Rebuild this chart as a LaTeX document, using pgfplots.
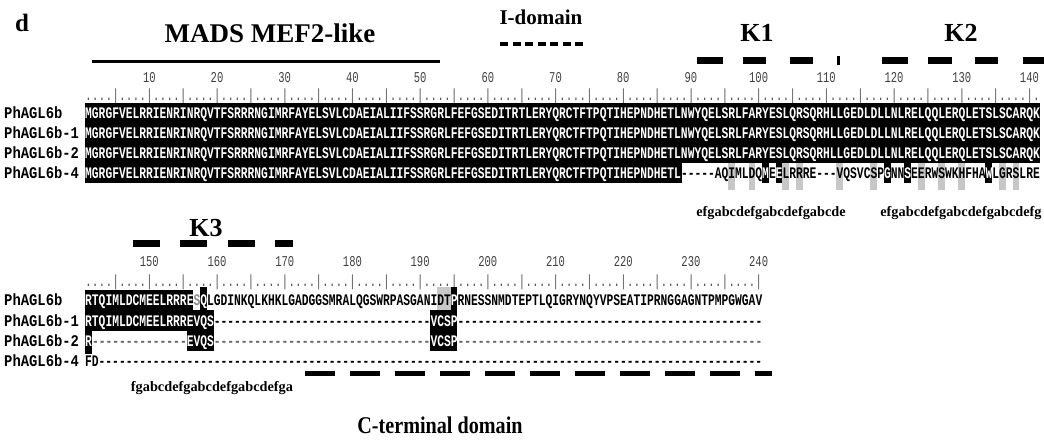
\documentclass[border=0pt]{standalone}
\usepackage{fontspec}
\setmainfont{Liberation Serif}
\newfontfamily\seqfont[FakeStretch=0.7,Ligatures=TeXOff]{Liberation Mono}
\newfontfamily\namefont[FakeStretch=0.85,Ligatures=TeXOff]{Liberation Mono}
\newfontfamily\condserif[FakeStretch=0.84]{Liberation Serif}
\usepackage{pgfplots}
\pgfplotsset{compat=1.18}
\newcommand{\sq}[1]{\seqfont\bfseries\fontsize{16.12}{16}\selectfont #1}
\newcommand{\rect}[5]{\addplot[fill=#5,draw=none,forget plot] coordinates {(#1,#2) (#3,#2) (#3,#4) (#1,#4)} -- cycle;}
\newcommand{\seqat}[4]{\node[anchor=base west,inner sep=0pt,text=#4] at (axis cs:#1,#2) {\sq{#3}};}
\newcommand{\rulat}[2]{\node[anchor=base west,inner sep=0pt,text=black!65] at (axis cs:85,#1) {\seqfont\fontsize{16.12}{16}\selectfont #2};}
\newcommand{\nameat}[2]{\node[anchor=base west,inner sep=0pt] at (axis cs:4,#1) {\namefont\bfseries\fontsize{16.3}{16}\selectfont #2};}
\newcommand{\numf}{\seqfont\fontsize{15}{15}\selectfont}
\begin{document}
\begin{tikzpicture}
\begin{axis}[scale only axis, width=1044pt, height=442pt, xmin=0, xmax=1044, ymin=0, ymax=442, y dir=reverse, hide axis, clip=false]
% ---------- domain annotations ----------
\node[font=\bfseries\fontsize{25}{25}\selectfont] at (axis cs:22,23) {d};
\node[font=\bfseries\fontsize{27}{27}\selectfont] at (axis cs:270,33) {MADS MEF2-like};
\addplot[line width=3pt,forget plot] coordinates {(92,61) (440,61)};
\node[font=\bfseries\fontsize{21}{21}\selectfont] at (axis cs:541,17) {I-domain};
\addplot[line width=4pt,dash pattern=on 8pt off 4.5pt,forget plot] coordinates {(500,44) (587,44)};
\node[font=\bfseries\fontsize{26}{26}\selectfont] at (axis cs:757,33) {K1};
\node[font=\bfseries\fontsize{26}{26}\selectfont] at (axis cs:961,33) {K2};
\rect{697}{57}{723}{64}{black}
\rect{743}{57}{766}{64}{black}
\rect{790}{57}{813}{64}{black}
\rect{837}{56}{840}{65}{black}
\rect{882}{57}{908}{64}{black}
\rect{928}{57}{952}{64}{black}
\rect{975}{57}{998}{64}{black}
\rect{1023}{57}{1044}{64}{black}
% ---------- top block ruler ----------
\pgfplotsinvokeforeach{10,20,...,140}{\node[font=\numf,text=black!75,inner sep=0pt] at (axis cs:{85+(#1-0.5)*6.77},78) {#1};}
\rulat{100}{....|....|....|....|....|....|....|....|....|....|....|....|....|....|....|....|....|....|....|....|....|....|....|....|....|....|....|....|.}
% ---------- top block shading ----------
\rect{85}{103}{1039.6}{163}{black}
\rect{85}{163}{682}{183}{black}
\rect{728.2}{163}{735}{190}{black!22}
\rect{748.5}{163}{755.2}{190}{black!22}
\rect{782.3}{163}{789}{190}{black!22}
\rect{795.8}{163}{802.6}{190}{black!22}
\rect{836.4}{163}{843.2}{190}{black!22}
\rect{870.3}{163}{877}{190}{black!22}
\rect{917.7}{163}{924.5}{190}{black!22}
\rect{938}{163}{944.8}{190}{black!22}
\rect{958.3}{163}{965.1}{190}{black!22}
\rect{999}{163}{1005.7}{190}{black!22}
\rect{1012.5}{163}{1019.3}{190}{black!22}
\rect{762}{163}{768.8}{183}{black}
\rect{775.5}{163}{782.3}{183}{black}
\rect{883.9}{163}{890.6}{183}{black}
\rect{904.2}{163}{911}{183}{black}
\rect{985.4}{163}{992.2}{183}{black}
% ---------- top block names & sequences ----------
\nameat{118.5}{PhAGL6b}
\nameat{138.5}{PhAGL6b-1}
\nameat{158.5}{PhAGL6b-2}
\nameat{178.5}{PhAGL6b-4}
\seqat{85}{118.5}{MGRGFVELRRIENRINRQVTFSRRRNGIMRFAYELSVLCDAEIALIIFSSRGRLFEFGSEDITRTLERYQRCTFTPQTIHEPNDHETLNWYQELSRLFARYESLQRSQRHLLGEDLDLLNLRELQQLERQLETSLSCARQK}{white}
\seqat{85}{138.5}{MGRGFVELRRIENRINRQVTFSRRRNGIMRFAYELSVLCDAEIALIIFSSRGRLFEFGSEDITRTLERYQRCTFTPQTIHEPNDHETLNWYQELSRLFARYESLQRSQRHLLGEDLDLLNLRELQQLERQLETSLSCARQK}{white}
\seqat{85}{158.5}{MGRGFVELRRIENRINRQVTFSRRRNGIMRFAYELSVLCDAEIALIIFSSRGRLFEFGSEDITRTLERYQRCTFTPQTIHEPNDHETLNWYQELSRLFARYESLQRSQRHLLGEDLDLLNLRELQQLERQLETSLSCARQK}{white}
\seqat{85}{178.5}{MGRGFVELRRIENRINRQVTFSRRRNGIMRFAYELSVLCDAEIALIIFSSRGRLFEFGSEDITRTLERYQRCTFTPQTIHEPNDHETL}{white}
\seqat{680.8}{178.5}{-----AQIMLDQ}{black}
\seqat{762}{178.5}{M}{white}
\seqat{768.8}{178.5}{E}{black}
\seqat{775.5}{178.5}{E}{white}
\seqat{782.3}{178.5}{LRRRE---VQSVCSP}{black}
\seqat{883.9}{178.5}{G}{white}
\seqat{890.6}{178.5}{NN}{black}
\seqat{904.2}{178.5}{S}{white}
\seqat{911}{178.5}{EERWSWKHFHA}{black}
\seqat{985.4}{178.5}{W}{white}
\seqat{992.2}{178.5}{LGRSLRE}{black}
% heptad labels
\node[font=\bfseries\fontsize{14.3}{14}\selectfont] at (axis cs:771,213) {efgabcdefgabcdefgabcde};
\node[font=\bfseries\fontsize{14.3}{14}\selectfont] at (axis cs:961,213) {efgabcdefgabcdefgabcdefg};
% ---------- bottom block annotations ----------
\node[font=\bfseries\fontsize{26}{26}\selectfont] at (axis cs:206,228) {K3};
\rect{133}{240}{160}{247}{black}
\rect{180}{240}{207}{247}{black}
\rect{228}{240}{255}{247}{black}
\rect{275}{240}{293}{247}{black}
\pgfplotsinvokeforeach{150,160,...,240}{\node[font=\numf,text=black!75,inner sep=0pt] at (axis cs:{85+(#1-140.5)*6.77},262) {#1};}
\rulat{286}{....|....|....|....|....|....|....|....|....|....|....|....|....|....|....|....|....|....|....|....|}
% ---------- bottom block shading ----------
\rect{85}{290}{193.3}{310.5}{black}
\rect{200.1}{287}{206.9}{310.5}{black}
\rect{85}{310}{213.6}{331}{black}
\rect{85}{330.5}{91.8}{354}{black}
\rect{186.6}{330.5}{213.6}{351}{black}
\rect{437}{287}{450.6}{310.5}{black!22}
\rect{450.6}{287}{457.4}{310.5}{black}
\rect{430.3}{310}{457.4}{351}{black}
% ---------- bottom block names & sequences ----------
\nameat{305.5}{PhAGL6b}
\nameat{326.5}{PhAGL6b-1}
\nameat{346.5}{PhAGL6b-2}
\nameat{366.5}{PhAGL6b-4}
\seqat{85}{305.5}{RTQIMLDCMEELRRRE}{white}
\seqat{193.3}{305.5}{S}{black!45}
\seqat{200.1}{305.5}{Q}{white}
\seqat{206.9}{305.5}{LGDINKQLKHKLGADGGSMRALQGSWRPASGANIDT}{black}
\seqat{450.6}{305.5}{P}{white}
\seqat{457.4}{305.5}{RNESSNMDTEPTLQIGRYNQYVPSEATIPRNGGAGNTPMPGWGAV}{black}
\seqat{85}{326.5}{RTQIMLDCMEELRRREVQS}{white}
\seqat{213.6}{326.5}{--------------------------------}{black}
\seqat{430.3}{326.5}{VCSP}{white}
\seqat{457.4}{326.5}{---------------------------------------------}{black}
\seqat{85}{346.5}{R}{white}
\seqat{91.8}{346.5}{--------------}{black!60}
\seqat{186.6}{346.5}{EVQS}{white}
\seqat{213.6}{346.5}{--------------------------------}{black!60}
\seqat{430.3}{346.5}{VCSP}{white}
\seqat{457.4}{346.5}{---------------------------------------------}{black!60}
\seqat{85}{366.5}{FD}{black}
\seqat{98.5}{366.5}{--------------------------------------------------------------------------------------------------}{black}
% C-terminal
\addplot[line width=5pt,dash pattern=on 30pt off 15pt,forget plot] coordinates {(305,373) (772,373)};
\node[font=\bfseries\fontsize{14.3}{14}\selectfont] at (axis cs:212,388) {fgabcdefgabcdefgabcdefga};
\node[font=\condserif\bfseries\fontsize{24}{24}\selectfont] at (axis cs:440,425) {C-terminal domain};
\end{axis}
\pgfresetboundingbox
\path[use as bounding box] (current axis.south west) rectangle (current axis.north east);
\end{tikzpicture}
\end{document}
